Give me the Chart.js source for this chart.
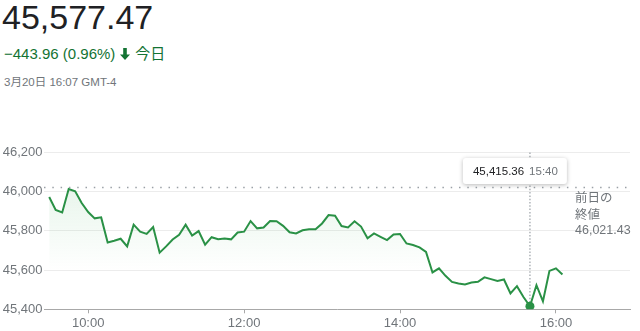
<!DOCTYPE html>
<html>
<head>
<meta charset="utf-8">
<script src="https://cdn.jsdelivr.net/npm/chart.js@4"></script>
<style>
  body { margin: 0; width: 640px; height: 331px; overflow: hidden; background: #fff;
         font-family: Arial, "Liberation Sans", "Noto Sans CJK JP", sans-serif; }
  #price { position: absolute; left: 2px; top: -2px; font-size: 34px; color: #202124; }
  #change { position: absolute; left: 4px; top: 42px; font-size: 15px; color: #137333; white-space: nowrap; }
  #change svg { vertical-align: -1px; margin: 0 5px 0 5px; }
  #stamp { position: absolute; left: 4px; top: 73px; font-size: 11.5px; color: #70757a; white-space: nowrap; }
  canvas { position: absolute; left: 0; top: 0; }
</style>
</head>
<body>
<div id="price">45,577.47</div>
<div id="change">−443.96 (0.96%)<svg width="10" height="12" viewBox="0 0 10 12"><path d="M5 12 L0 6.5 L3.2 6.5 L3.2 0 L6.8 0 L6.8 6.5 L10 6.5 Z" fill="#137333"/></svg>今日</div>
<div id="stamp">3月20日 16:07 GMT-4</div>
<canvas id="chart" width="640" height="331"></canvas>
<script>
// intraday series, 5 minute steps
var times = ["9:30","9:35","9:40","9:45","9:50","9:55",
  "10:00","10:05","10:10","10:15","10:20","10:25","10:30","10:35","10:40","10:45","10:50","10:55",
  "11:00","11:05","11:10","11:15","11:20","11:25","11:30","11:35","11:40","11:45","11:50","11:55",
  "12:00","12:05","12:10","12:15","12:20","12:25","12:30","12:35","12:40","12:45","12:50","12:55",
  "13:00","13:05","13:10","13:15","13:20","13:25","13:30","13:35","13:40","13:45","13:50","13:55",
  "14:00","14:05","14:10","14:15","14:20","14:25","14:30","14:35","14:40","14:45","14:50","14:55",
  "15:00","15:05","15:10","15:15","15:20","15:25","15:30","15:35","15:40","15:45","15:50","15:55",
  "16:00","16:05"];
var values = [45973,45907,45894,46014,46002,45942,
  45896,45864,45869,45741,45750,45760,45721,45832,45796,45785,45820,45689,
  45721,45756,45780,45832,45776,45799,45730,45768,45758,45761,45757,45792,
  45796,45850,45813,45817,45850,45849,45826,45793,45787,45803,45808,45808,
  45838,45881,45877,45825,45818,45849,45822,45762,45787,45770,45753,45782,
  45784,45736,45728,45716,45693,45588,45609,45571,45540,45532,45527,45537,
  45540,45563,45554,45544,45552,45481,45518,45463,45415.36,45523,45441,45596,
  45609,45577.47];
var prevClose = 46021.43;
var yTicks = [45400, 45600, 45800, 46000, 46200];
var xTicks = ["10:00", "12:00", "14:00", "16:00"];
var hoverIndex = 74; // 15:40

var toMin = function (t) { var p = t.split(":"); return parseInt(p[0]) * 60 + parseInt(p[1]); };
var fmtTime = function (m) { var mm = m % 60; return Math.floor(m / 60) + ":" + (mm < 10 ? "0" + mm : mm); };
var fmtNum = function (v, d) { return v.toLocaleString("en-US", {minimumFractionDigits: d, maximumFractionDigits: d}); };

var xMin = 566, xMax = 1017;
var lineColor = "#2a9146";
var gray = "#70757a";

var points = times.map(function (t, i) { return {x: toMin(t), y: values[i]}; });

var overlay = {
  id: "overlay",
  beforeDatasetsDraw: function (chart) {
    var ctx = chart.ctx, a = chart.chartArea;
    var px = chart.scales.x.getPixelForValue(toMin(times[hoverIndex]));
    var py = chart.scales.y.getPixelForValue(values[hoverIndex]);
    ctx.save();
    ctx.strokeStyle = "#9aa0a6";
    ctx.lineWidth = 1.2;
    ctx.setLineDash([1.5, 1.8]);
    ctx.beginPath();
    ctx.moveTo(px, a.top);
    ctx.lineTo(px, py);
    ctx.stroke();
    ctx.restore();
  },
  afterDatasetsDraw: function (chart) {
    var ctx = chart.ctx, a = chart.chartArea;
    var px = chart.scales.x.getPixelForValue(toMin(times[hoverIndex]));
    var yPrev = chart.scales.y.getPixelForValue(prevClose);
    ctx.save();
    // previous close label
    ctx.font = "12.5px Arial, 'Liberation Sans', 'Noto Sans CJK JP', sans-serif";
    ctx.fillStyle = gray;
    ctx.textAlign = "left";
    ctx.textBaseline = "middle";
    var lx = a.right - 55;
    ctx.fillText("前日の", lx, yPrev + 11);
    ctx.fillText("終値", lx, yPrev + 28);
    ctx.fillText(fmtNum(prevClose, 2), lx, yPrev + 43.5);
    // tooltip box
    ctx.font = "11.5px Arial, 'Liberation Sans', sans-serif";
    var t1 = fmtNum(values[hoverIndex], 2), t2 = times[hoverIndex];
    var w1 = ctx.measureText(t1).width, w2 = ctx.measureText(t2).width;
    var bw = 10 + w1 + 5 + w2 + 9, bh = 26;
    var bx = px - 67, by = a.top + 5.5;
    ctx.shadowColor = "rgba(0,0,0,0.28)";
    ctx.shadowBlur = 4;
    ctx.shadowOffsetY = 1;
    ctx.fillStyle = "#fff";
    ctx.beginPath();
    ctx.roundRect(bx, by, bw, bh, 3);
    ctx.fill();
    ctx.shadowColor = "transparent";
    ctx.fillStyle = "#202124";
    ctx.fillText(t1, bx + 10, by + bh / 2 + 0.5);
    ctx.fillStyle = gray;
    ctx.fillText(t2, bx + 10 + w1 + 5, by + bh / 2 + 0.5);
    ctx.restore();
  }
};

new Chart(document.getElementById("chart"), {
  type: "line",
  data: {
    datasets: [
      {
        data: points,
        borderColor: lineColor,
        borderWidth: 2,
        tension: 0,
        fill: "start",
        backgroundColor: function (c) {
          var a = c.chart.chartArea;
          if (!a) return "rgba(52,168,83,0.1)";
          var g = c.chart.ctx.createLinearGradient(0, a.top, 0, a.bottom);
          g.addColorStop(0, "rgba(52,168,83,0.16)");
          g.addColorStop(0.75, "rgba(52,168,83,0)");
          return g;
        },
        pointRadius: function (c) { return c.dataIndex === hoverIndex ? 4.5 : 0; },
        pointBackgroundColor: lineColor,
        pointBorderWidth: 0,
        order: 1
      },
      {
        data: [{x: xMin, y: prevClose}, {x: xMax, y: prevClose}],
        borderColor: "#9aa0a6",
        borderWidth: 1.5,
        borderDash: [1.5, 6.8],
        pointRadius: 0,
        fill: false,
        order: 2
      }
    ]
  },
  options: {
    responsive: false,
    animation: false,
    events: [],
    layout: { padding: { top: 152.5, right: 10, left: 0, bottom: 0 } },
    plugins: { legend: { display: false }, tooltip: { enabled: false } },
    scales: {
      x: {
        type: "linear",
        min: xMin,
        max: xMax,
        afterFit: function (s) { s.height = 21.7; },
        afterBuildTicks: function (s) { s.ticks = xTicks.map(function (t) { return {value: toMin(t)}; }); },
        ticks: {
          color: gray,
          font: { size: 13, family: "Arial, 'Liberation Sans', sans-serif" },
          padding: 2,
          maxRotation: 0,
          callback: function (v) { return fmtTime(v); }
        },
        grid: { drawOnChartArea: false, drawTicks: true, tickLength: 4, color: "#a8a8a8" },
        border: { display: true, color: "#a8a8a8", width: 1 }
      },
      y: {
        min: yTicks[0],
        max: yTicks[yTicks.length - 1],
        afterFit: function (s) { s.width = 44; },
        afterBuildTicks: function (s) { s.ticks = yTicks.map(function (v) { return {value: v}; }); },
        ticks: {
          color: gray,
          font: { size: 13, family: "Arial, 'Liberation Sans', sans-serif" },
          padding: 1.5,
          callback: function (v) { return fmtNum(v, 0); }
        },
        grid: { drawTicks: false, color: "#ececec" },
        border: { display: false }
      }
    }
  },
  plugins: [overlay]
});
</script>
</body>
</html>
